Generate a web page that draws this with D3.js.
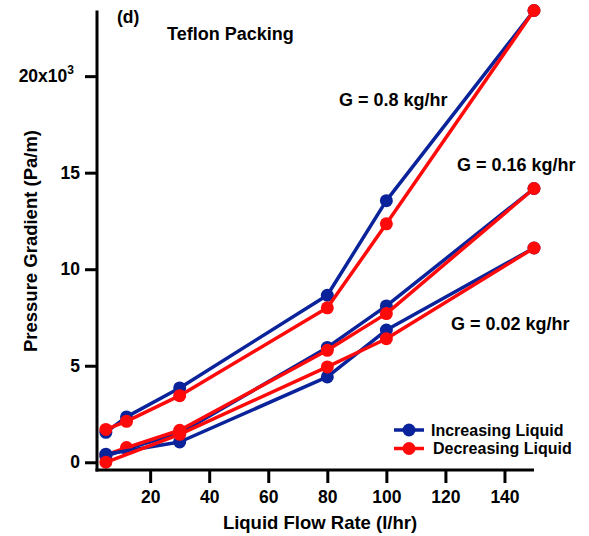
<!DOCTYPE html>
<html>
<head>
<meta charset="utf-8">
<script src="https://cdn.jsdelivr.net/npm/d3@7"></script>
<style>
  html, body { margin: 0; padding: 0; background: #fff; }
  svg { display: block; font-family: Arial, "Liberation Sans", Helvetica, sans-serif; font-weight: bold; }
</style>
</head>
<body>
<svg id="chart" width="589" height="536"></svg>
<script>
// Pressure gradient (Pa/m) against liquid flow rate (l/hr), Teflon packing
const flowG08 = [5, 12, 30, 80, 100, 150];
const incG08 = [1550, 2350, 3850, 8650, 13550, 23400];
const decG08 = [1700, 2120, 3450, 8000, 12350, 23400];

const flowG016 = [5, 12, 30, 80, 100, 150];
const incG016 = [300, 700, 1500, 5950, 8100, 14180];
const decG016 = [380, 760, 1660, 5800, 7700, 14180];

const flowG002 = [5, 30, 80, 100, 150];
const incG002 = [420, 1050, 4420, 6850, 11100];
const decG002 = [0, 1450, 4940, 6400, 11100];

const xTicks = [20, 40, 60, 80, 100, 120, 140];
const yTicks = [0, 5000, 10000, 15000, 20000];

const gasLabels = ["G = 0.8 kg/hr", "G = 0.16 kg/hr", "G = 0.02 kg/hr"];
const legendLabels = ["Increasing Liquid", "Decreasing Liquid"];

const BLUE = "#0a239a";
const RED = "#ff0a0a";

const svg = d3.select("#chart");

const x = d3.scaleLinear().domain([2, 150]).range([97, 534]);
const y = d3.scaleLinear().domain([-400, 23400]).range([470, 10.5]);

// series in drawing order: increasing before decreasing for each gas rate
const series = [
  { xs: flowG08, ys: incG08, color: BLUE },
  { xs: flowG08, ys: decG08, color: RED },
  { xs: flowG016, ys: incG016, color: BLUE },
  { xs: flowG016, ys: decG016, color: RED },
  { xs: flowG002, ys: incG002, color: BLUE },
  { xs: flowG002, ys: decG002, color: RED }
];

const line = d3.line().x(d => x(d[0])).y(d => y(d[1]));

series.forEach(s => {
  const pts = s.xs.map((v, i) => [v, s.ys[i]]);
  const g = svg.append("g");
  g.append("path")
    .attr("d", line(pts))
    .attr("fill", "none")
    .attr("stroke", s.color)
    .attr("stroke-width", 3.5)
    .attr("stroke-linejoin", "round");
  g.selectAll("circle").data(pts).join("circle")
    .attr("cx", d => x(d[0]))
    .attr("cy", d => y(d[1]))
    .attr("r", 6.5)
    .attr("fill", s.color);
});

// axes
const xAxis = d3.axisBottom(x).tickValues(xTicks).tickSizeInner(13).tickSizeOuter(0).tickPadding(8);
const yAxis = d3.axisLeft(y).tickValues(yTicks).tickSizeInner(12).tickSizeOuter(0).tickPadding(5)
  .tickFormat(d => d === 20000 ? "20x10" : String(d / 1000));

const gx = svg.append("g").attr("transform", "translate(0,470)").call(xAxis);
const gy = svg.append("g").attr("transform", "translate(97,0)").call(yAxis);

[gx, gy].forEach(g => {
  g.select(".domain").attr("stroke", "#000").attr("stroke-width", 3);
  g.selectAll(".tick line").attr("stroke", "#000").attr("stroke-width", 3);
  g.selectAll(".tick text")
    .attr("fill", "#000")
    .style("font-size", "17.5px")
    .style("font-weight", "bold")
    .style("font-family", "Arial, 'Liberation Sans', sans-serif");
});
gx.select(".domain").attr("d", "M95.5,0H534");
gy.select(".domain").attr("d", "M0,10.5V471.5");

// superscript on the top tick label
gy.selectAll(".tick text").filter(d => d === 20000)
  .attr("dx", "-6")
  .append("tspan")
  .attr("dy", "-8")
  .style("font-size", "12px")
  .text("3");

// axis titles
svg.append("text")
  .attr("x", 320).attr("y", 529)
  .attr("text-anchor", "middle")
  .style("font-size", "18.5px")
  .text("Liquid Flow Rate (l/hr)");

svg.append("text")
  .attr("transform", "translate(37,241) rotate(-90)")
  .attr("text-anchor", "middle")
  .style("font-size", "18.5px")
  .text("Pressure Gradient (Pa/m)");

// panel tag and title
svg.append("text").attr("x", 117).attr("y", 23).style("font-size", "17.5px").text("(d)");
svg.append("text").attr("x", 167).attr("y", 40).style("font-size", "18px").text("Teflon Packing");

// gas rate annotations
const gasPos = [[339, 106], [457, 171], [451, 330]];
gasLabels.forEach((t, i) => {
  svg.append("text")
    .attr("x", gasPos[i][0]).attr("y", gasPos[i][1])
    .style("font-size", "18px")
    .text(t);
});

// legend
const legend = svg.append("g");
[BLUE, RED].forEach((c, i) => {
  const ly = 430 + i * 18.5;
  legend.append("line")
    .attr("x1", 394).attr("x2", 424).attr("y1", ly).attr("y2", ly)
    .attr("stroke", c).attr("stroke-width", 3.5);
  legend.append("circle").attr("cx", 409).attr("cy", ly).attr("r", 6.5).attr("fill", c);
  legend.append("text")
    .attr("x", 431 + i * 2).attr("y", ly + 5.5)
    .style("font-size", "16px")
    .text(legendLabels[i]);
});
</script>
</body>
</html>
